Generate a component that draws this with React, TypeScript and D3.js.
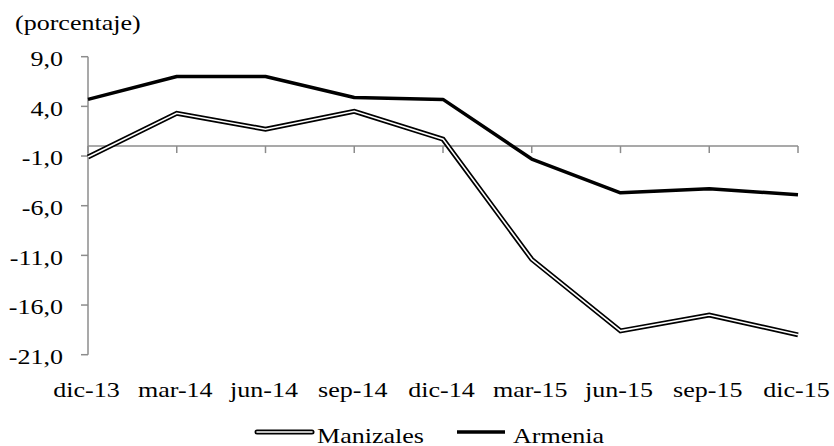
import React from "react";
import * as d3 from "d3";

const categories = ["dic-13", "mar-14", "jun-14", "sep-14", "dic-14", "mar-15", "jun-15", "sep-15", "dic-15"];
const manizales = [-1.1, 3.3, 1.7, 3.5, 0.7, -11.4, -18.6, -17.0, -19.0];
const armenia = [4.7, 7.0, 7.0, 4.9, 4.7, -1.3, -4.7, -4.3, -4.9];
const yTicks = [9, 4, -1, -6, -11, -16, -21];

const W = 834, H = 446;
const font = "'Liberation Serif', 'Times New Roman', serif";
const SX = 1.24;

function T({ x, y, anchor = "start", size = 21, children }: { x: number; y: number; anchor?: string; size?: number; children: React.ReactNode }) {
  return (
    <text transform={`translate(${x},${y}) scale(${SX},1)`} textAnchor={anchor} fontFamily={font} fontSize={size} fill="#000">
      {children}
    </text>
  );
}

export default function App() {
  const x = d3.scalePoint<string>().domain(categories).range([88, 798]);
  const y = d3.scaleLinear().domain([-21, 9]).range([354.7, 56.7]);
  const line = d3.line<number>().x((_, i) => x(categories[i]) as number).y(d => y(d));
  const fmt = (v: number) => v.toFixed(1).replace(".", ",");
  const axisColor = "#8c8c8c";
  return (
    <svg width={W} height={H} style={{ position: "absolute", left: 0, top: 0 }}>
      <rect width={W} height={H} fill="#fff" />
      <T x={15} y={30}>(porcentaje)</T>
      {/* y axis */}
      <line x1={88} x2={88} y1={y(9)} y2={y(-21)} stroke={axisColor} strokeWidth={1.5} />
      {yTicks.map(t => (
        <g key={t}>
          <line x1={81} x2={88} y1={y(t)} y2={y(t)} stroke={axisColor} strokeWidth={1.5} />
          <T x={63} y={y(t) + 9.3} anchor="end">{fmt(t)}</T>
        </g>
      ))}
      {/* x axis at zero */}
      <line x1={88} x2={798} y1={y(0)} y2={y(0)} stroke={axisColor} strokeWidth={1.5} />
      {categories.map(c => (
        <g key={c}>
          <line x1={x(c)} x2={x(c)} y1={y(0)} y2={y(0) + 7} stroke={axisColor} strokeWidth={1.5} />
          <T x={x(c) as number - 1.5} y={397} anchor="middle">{c}</T>
        </g>
      ))}
      {/* Manizales double line */}
      <path d={line(manizales) || ""} fill="none" stroke="#000" strokeWidth={5} strokeLinejoin="miter" />
      <path d={line(manizales) || ""} fill="none" stroke="#fff" strokeWidth={1.6} strokeLinejoin="miter" />
      {/* Armenia */}
      <path d={line(armenia) || ""} fill="none" stroke="#000" strokeWidth={3.5} strokeLinejoin="round" />
      {/* legend */}
      <line x1={257} x2={312} y1={432} y2={432} stroke="#000" strokeWidth={5} strokeLinecap="round" />
      <line x1={257} x2={312} y1={432} y2={432} stroke="#fff" strokeWidth={1.6} strokeLinecap="round" />
      <T x={317} y={443}>Manizales</T>
      <line x1={457} x2={505} y1={432} y2={432} stroke="#000" strokeWidth={3.5} />
      <T x={513} y={443}>Armenia</T>
    </svg>
  );
}
